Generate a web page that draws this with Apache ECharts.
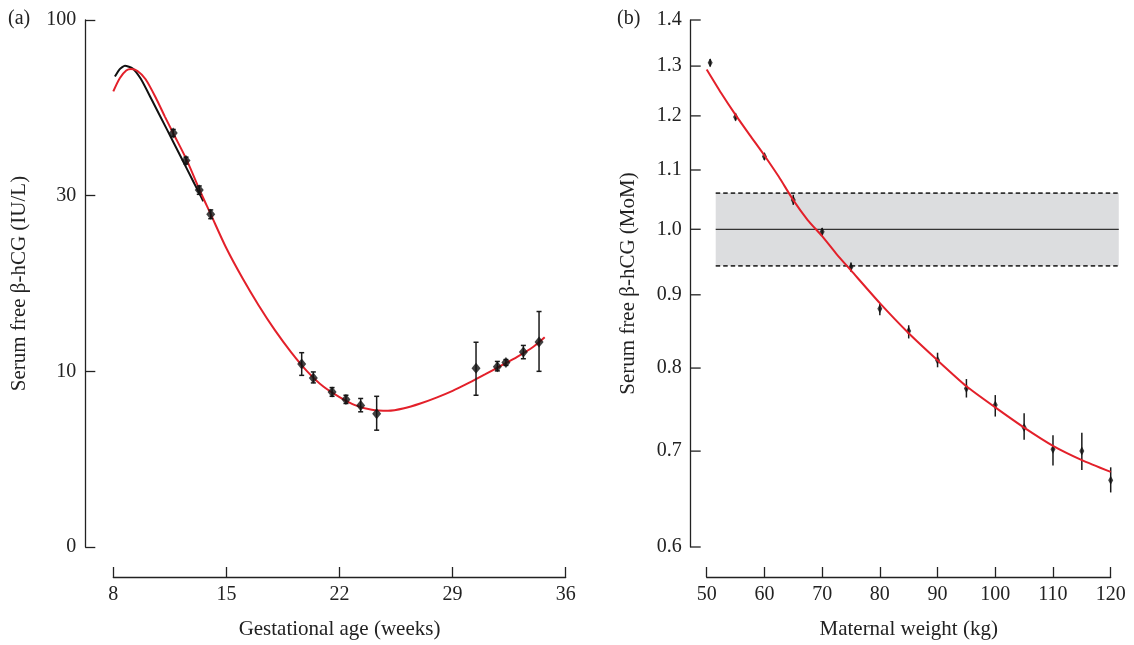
<!DOCTYPE html>
<html><head><meta charset="utf-8">
<script src="https://cdn.jsdelivr.net/npm/echarts@6/dist/echarts.min.js"></script>
<style>html,body{margin:0;padding:0;background:#fff}#c{width:1134px;height:645px}</style>
</head><body><div id="c"></div>
<script>
// ---------- Panel (a): Gestational age ----------
const aXTicks = [8, 15, 22, 29, 36];
const aYTickLabels = ['0', '10', '30', '100'];
const aPointWeeks  = [11.71, 12.5, 13.32, 14.03, 19.66, 20.38, 21.54, 22.4, 23.31, 24.3, 30.45, 31.77, 32.3, 33.38, 34.35];
const aPointValues = [47.7, 39.8, 32.8, 28.0, 10.5, 9.58, 8.74, 8.31, 7.99, 7.57, 10.2, 10.3, 10.6, 11.35, 12.12];
const aPointLow    = [46.6, 38.9, 31.9, 27.2, 9.74, 9.27, 8.49, 8.10, 7.67, 6.80, 8.55, 10.03, 10.4, 10.86, 10.0];
const aPointHigh   = [48.8, 40.7, 33.7, 28.8, 11.3, 9.96, 8.99, 8.55, 8.37, 8.49, 12.1, 10.67, 10.8, 11.85, 14.8];
const aRedWeeks  = [8.0, 8.4, 8.8, 9.1, 9.5, 10.0, 10.69, 11.2, 11.7, 12.54, 13.37, 14.0, 15, 16, 17, 18, 19, 20, 21, 22, 23, 24, 25, 26, 27, 28, 29, 30, 31, 32, 33, 34, 34.7];
const aRedValues = [62.6, 68.3, 71.8, 72.5, 71.6, 67.8, 59.3, 53.0, 47.7, 40.0, 32.6, 28.2, 22.4, 18.4, 15.4, 13.1, 11.35, 10.0, 9.05, 8.45, 8.0, 7.77, 7.72, 7.85, 8.1, 8.42, 8.8, 9.27, 9.8, 10.38, 11.0, 11.75, 12.5];
const aBlackWeeks  = [8.1, 8.4, 8.72, 9.2, 9.7, 10.38, 11.31, 12.13, 12.95, 13.57];
const aBlackValues = [69.0, 72.5, 74.1, 72.8, 68.0, 59.3, 48.9, 41.2, 34.7, 30.5];

// ---------- Panel (b): Maternal weight ----------
const bXRange = [50, 120];
const bYTicks = [0.6, 0.7, 0.8, 0.9, 1.0, 1.1, 1.2, 1.3, 1.4];
const bYTickLabels = ['0.6', '0.7', '0.8', '0.9', '1.0', '1.1', '1.2', '1.3', '1.4'];
const bPointWeights = [50.6, 55, 60, 65, 70, 75, 80, 85, 90, 95, 100, 105, 110, 115, 120];
const bPointValues  = [1.307, 1.198, 1.124, 1.048, 0.996, 0.941, 0.880, 0.849, 0.810, 0.774, 0.754, 0.727, 0.702, 0.700, 0.668];
const bPointLow     = [1.299, 1.191, 1.118, 1.040, 0.990, 0.934, 0.871, 0.839, 0.801, 0.763, 0.740, 0.713, 0.684, 0.679, 0.655];
const bPointHigh    = [1.315, 1.205, 1.130, 1.057, 1.002, 0.948, 0.887, 0.857, 0.820, 0.786, 0.766, 0.744, 0.718, 0.721, 0.682];
const bRedWeights = [50, 52.5, 55, 57.5, 60, 62.5, 65, 67.5, 70, 72.5, 75, 80, 85, 90, 95, 100, 105, 110, 115, 120];
const bRedValues  = [1.293, 1.245, 1.202, 1.163, 1.126, 1.088, 1.048, 1.015, 0.989, 0.961, 0.936, 0.888, 0.846, 0.810, 0.777, 0.751, 0.727, 0.706, 0.690, 0.677];
const bBandX = [51.56, 121.4];
const bBandY = [0.943, 1.06];
const bRefValue = 1.0;

// ---------- styles ----------
const FONT = 'Liberation Serif';
const FS = 20;
const FS_NAME = 21;
const AXIS_COLOR = '#222';
const AXIS_W = 1.3;
const RED = '#e3202a';
const TICK_LEN = 10;
const B_Y_OFFSET = 16;

const chart = echarts.init(document.getElementById('c'), null, {renderer: 'canvas'});

function errRender(capHalf) {
  return function (params, api) {
    const x = api.value(0), lo = api.value(1), hi = api.value(2);
    const a = api.coord([x, lo]), b = api.coord([x, hi]);
    const st = {stroke: '#1a1a1a', lineWidth: 1.5};
    const ch = [{type: 'line', shape: {x1: a[0], y1: a[1], x2: b[0], y2: b[1]}, style: st}];
    if (capHalf > 0) {
      ch.push({type: 'line', shape: {x1: a[0] - capHalf, y1: a[1], x2: a[0] + capHalf, y2: a[1]}, style: st});
      ch.push({type: 'line', shape: {x1: b[0] - capHalf, y1: b[1], x2: b[0] + capHalf, y2: b[1]}, style: st});
    }
    return {type: 'group', children: ch};
  };
}

const sqrt10 = Math.sqrt(10);
const axisLabelStyle = {fontFamily: FONT, fontSize: FS, color: AXIS_COLOR};
const nameStyle = {fontFamily: FONT, fontSize: FS_NAME, color: AXIS_COLOR};

const option = {
  animation: false,
  backgroundColor: '#fff',
  grid: [
    {left: 113.3, top: 20, width: 452.4, height: 529.3},
    {left: 706.7, top: 20, width: 404, height: 529.3}
  ],
  graphic: [
    {type: 'text', left: 8, top: 9, style: {text: '(a)', font: FS + 'px "' + FONT + '"', fill: AXIS_COLOR}},
    {type: 'text', left: 617, top: 9, style: {text: '(b)', font: FS + 'px "' + FONT + '"', fill: AXIS_COLOR}}
  ],
  xAxis: [
    {
      gridIndex: 0, type: 'value', min: aXTicks[0], max: aXTicks[aXTicks.length - 1], offset: 30,
      name: 'Gestational age (weeks)', nameLocation: 'middle', nameGap: 42, nameTextStyle: nameStyle,
      axisLine: {show: true, onZero: false, lineStyle: {color: AXIS_COLOR, width: AXIS_W}},
      axisTick: {show: true, inside: true, length: TICK_LEN, customValues: aXTicks, lineStyle: {color: AXIS_COLOR, width: AXIS_W}},
      axisLabel: Object.assign({margin: 8, customValues: aXTicks}, axisLabelStyle),
      splitLine: {show: false}
    },
    {
      gridIndex: 1, type: 'value', min: bXRange[0], max: bXRange[1], interval: 10, offset: 30,
      name: 'Maternal weight (kg)', nameLocation: 'middle', nameGap: 42, nameTextStyle: nameStyle,
      axisLine: {show: true, onZero: false, lineStyle: {color: AXIS_COLOR, width: AXIS_W}},
      axisTick: {show: true, inside: true, length: TICK_LEN, lineStyle: {color: AXIS_COLOR, width: AXIS_W}},
      axisLabel: Object.assign({margin: 8, showMinLabel: true, showMaxLabel: true}, axisLabelStyle),
      splitLine: {show: false}
    }
  ],
  yAxis: [
    {
      gridIndex: 0, type: 'log', logBase: sqrt10, min: sqrt10, max: 100, offset: 28,
      name: 'Serum free β-hCG (IU/L)', nameLocation: 'middle', nameGap: 55, nameTextStyle: nameStyle,
      axisLine: {show: true, onZero: false, lineStyle: {color: AXIS_COLOR, width: AXIS_W}},
      axisTick: {show: true, inside: true, length: TICK_LEN, lineStyle: {color: AXIS_COLOR, width: AXIS_W}},
      axisLabel: Object.assign({
        margin: 9, showMinLabel: true, showMaxLabel: true,
        formatter: function (v) {
          const i = Math.round(Math.log(v) / Math.log(sqrt10)) - 1;
          return aYTickLabels[i] !== undefined ? aYTickLabels[i] : '';
        }
      }, axisLabelStyle),
      splitLine: {show: false}, minorTick: {show: false}
    },
    {
      gridIndex: 1, type: 'log', min: bYTicks[0], max: bYTicks[bYTicks.length - 1], offset: B_Y_OFFSET,
      name: 'Serum free β-hCG (MoM)', nameLocation: 'middle', nameGap: 52, nameTextStyle: nameStyle,
      axisLine: {show: true, onZero: false, lineStyle: {color: AXIS_COLOR, width: AXIS_W}},
      axisTick: {show: false},
      axisLabel: {show: false},
      splitLine: {show: false}, minorTick: {show: false}
    }
  ],
  series: [
    // ---- panel (a)
    {type: 'line', xAxisIndex: 0, yAxisIndex: 0, data: aBlackWeeks.map((w, i) => [w, aBlackValues[i]]),
      showSymbol: false, smooth: 0.2, lineStyle: {color: '#111', width: 2}, z: 2},
    {type: 'line', xAxisIndex: 0, yAxisIndex: 0, data: aRedWeeks.map((w, i) => [w, aRedValues[i]]),
      showSymbol: false, smooth: 0.3, lineStyle: {color: RED, width: 2}, z: 3},
    {type: 'custom', xAxisIndex: 0, yAxisIndex: 0, renderItem: errRender(2.5),
      data: aPointWeeks.map((w, i) => [w, aPointLow[i], aPointHigh[i]]), encode: {x: 0, y: [1, 2]}, z: 4},
    {type: 'scatter', xAxisIndex: 0, yAxisIndex: 0, data: aPointWeeks.map((w, i) => [w, aPointValues[i]]),
      symbol: 'diamond', symbolSize: [9, 11], itemStyle: {color: '#111'}, z: 5},
    // ---- panel (b)
    {type: 'custom', xAxisIndex: 1, yAxisIndex: 1, clip: false,
      data: [[bBandX[0], bBandY[0], bBandX[1], bBandY[1], bRefValue]], encode: {x: [0, 2], y: [1, 3]},
      renderItem: function (params, api) {
        const p0 = api.coord([api.value(0), api.value(3)]);
        const p1 = api.coord([api.value(2), api.value(1)]);
        const pm = api.coord([api.value(0), api.value(4)]);
        const dash = {stroke: '#333', lineWidth: 1.8, lineDash: [4.5, 3]};
        return {type: 'group', children: [
          {type: 'rect', shape: {x: p0[0], y: p0[1], width: p1[0] - p0[0], height: p1[1] - p0[1]}, style: {fill: '#dcdddf'}},
          {type: 'line', shape: {x1: p0[0], y1: p0[1], x2: p1[0], y2: p0[1]}, style: dash},
          {type: 'line', shape: {x1: p0[0], y1: p1[1], x2: p1[0], y2: p1[1]}, style: dash},
          {type: 'line', shape: {x1: p0[0], y1: pm[1], x2: p1[0], y2: pm[1]}, style: {stroke: '#333', lineWidth: 1.2}}
        ]};
      }, z: 1},
    {type: 'custom', xAxisIndex: 1, yAxisIndex: 1, clip: false,
      data: bYTicks.map(v => [bXRange[0], v]), encode: {x: 0, y: 1},
      renderItem: function (params, api) {
        const p = api.coord([api.value(0), api.value(1)]);
        const x0 = p[0] - B_Y_OFFSET;
        return {type: 'group', children: [
          {type: 'line', shape: {x1: x0, y1: p[1], x2: x0 + TICK_LEN, y2: p[1]}, style: {stroke: AXIS_COLOR, lineWidth: AXIS_W}},
          {type: 'text', x: x0 - 9, y: p[1], style: {text: bYTickLabels[params.dataIndex], align: 'right', verticalAlign: 'middle',
            font: FS + 'px "' + FONT + '"', fill: AXIS_COLOR}}
        ]};
      }, z: 2},
    {type: 'custom', xAxisIndex: 1, yAxisIndex: 1, renderItem: errRender(0),
      data: bPointWeights.map((w, i) => [w, bPointLow[i], bPointHigh[i]]), encode: {x: 0, y: [1, 2]}, z: 4},
    {type: 'scatter', xAxisIndex: 1, yAxisIndex: 1, data: bPointWeights.map((w, i) => [w, bPointValues[i]]),
      symbol: 'diamond', symbolSize: [5, 9], itemStyle: {color: '#111'}, z: 5},
    {type: 'line', xAxisIndex: 1, yAxisIndex: 1, data: bRedWeights.map((w, i) => [w, bRedValues[i]]),
      showSymbol: false, smooth: 0.2, lineStyle: {color: RED, width: 2}, z: 6}
  ]
};
chart.setOption(option);
</script></body></html>
